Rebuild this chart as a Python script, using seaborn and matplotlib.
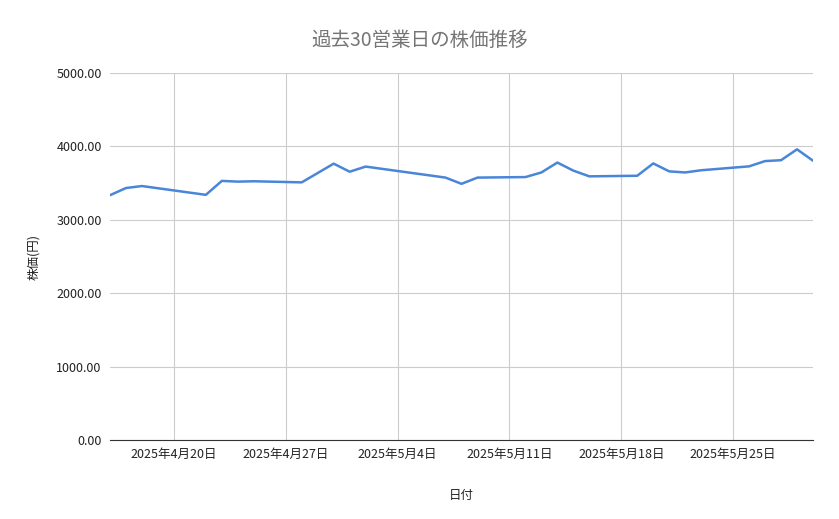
import pandas as pd
import numpy as np
import matplotlib
matplotlib.use('Agg')
import matplotlib.pyplot as plt
import matplotlib.dates as mdates
import seaborn as sns

dates = ['2025-04-16', '2025-04-17', '2025-04-18', '2025-04-22', '2025-04-23',
         '2025-04-24', '2025-04-25', '2025-04-28', '2025-04-30', '2025-05-01',
         '2025-05-02', '2025-05-07', '2025-05-08', '2025-05-09', '2025-05-12',
         '2025-05-13', '2025-05-14', '2025-05-15', '2025-05-16', '2025-05-19',
         '2025-05-20', '2025-05-21', '2025-05-22', '2025-05-23', '2025-05-26',
         '2025-05-27', '2025-05-28', '2025-05-29', '2025-05-30']
prices = [3335, 3433, 3460, 3340, 3530, 3520, 3525, 3510, 3765, 3655,
          3725, 3575, 3490, 3575, 3582, 3645, 3780, 3670, 3592, 3600,
          3768, 3660, 3645, 3675, 3728, 3800, 3812, 3960, 3805]
tick_dates = ['2025-04-20', '2025-04-27', '2025-05-04', '2025-05-11', '2025-05-18', '2025-05-25']

df = pd.DataFrame({'date': pd.to_datetime(dates), 'price': prices})

sns.set_style('white')
plt.rcParams['font.family'] = ['Noto Sans CJK JP', 'DejaVu Sans']

fig = plt.figure(figsize=(8.39, 5.19), dpi=100)
ax = fig.add_axes([110 / 839, 1 - 440 / 519, 703 / 839, 367 / 519])

sns.lineplot(data=df, x='date', y='price', ax=ax, color='#4a86d8', linewidth=1.8)

ax.set_xlim(pd.Timestamp('2025-04-16'), pd.Timestamp('2025-05-30'))
ax.set_ylim(0, 5000)
ax.set_yticks(np.arange(0, 5001, 1000))
ax.set_yticklabels([f'{v:.2f}' for v in np.arange(0, 5001, 1000)])
ticks = pd.to_datetime(tick_dates)
ax.set_xticks(ticks)
ax.set_xticklabels([f'{t.year}年{t.month}月{t.day}日' for t in ticks])

ax.grid(True, color='#cccccc', linewidth=0.8)
for s in ['top', 'right', 'left']:
    ax.spines[s].set_visible(False)
ax.spines['bottom'].set_color('#333333')
ax.tick_params(axis='both', length=0, labelsize=9, colors='#222222', pad=6)

ax.set_xlabel('日付', fontsize=9, color='#222222', labelpad=20)
ax.set_ylabel('株価(円)', fontsize=9, color='#222222', labelpad=12)
fig.text(0.5, 1 - 40 / 519, '過去30営業日の株価推移', ha='center', va='center',
         fontsize=14, color='#757575')

fig.savefig('out.png', dpi=100)
